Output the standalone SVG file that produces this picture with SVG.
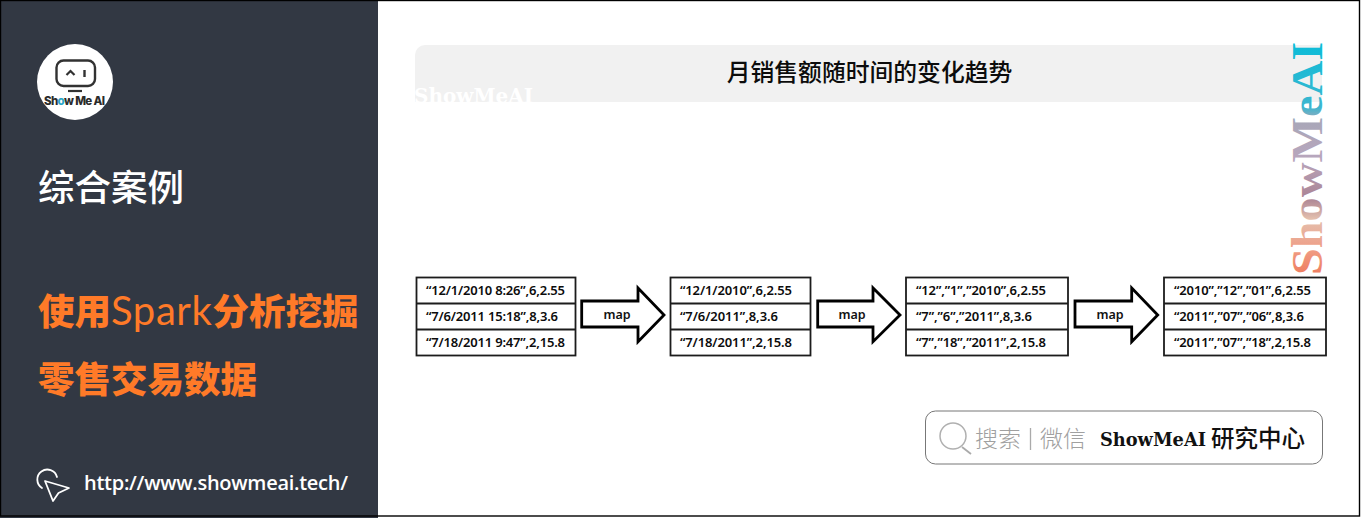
<svg xmlns="http://www.w3.org/2000/svg" width="1361" height="518" viewBox="0 0 1361 518">
<style>
.cjk{font-family:"Noto Sans CJK SC","Noto Sans",sans-serif}
.row{font-family:"Noto Sans","Liberation Sans",sans-serif;font-size:13px;font-weight:600;fill:#0c0c0c}
.box{fill:#fff;stroke:#1c1c1c;stroke-width:1.8}
.arrow{fill:#fff;stroke:#000;stroke-width:2.800;stroke-miterlimit:10}
.map{font-family:"Noto Sans","Liberation Sans",sans-serif;font-size:12.500px;font-weight:600;fill:#111}
</style>
<defs>
<linearGradient id="wm" gradientUnits="userSpaceOnUse" x1="0" y1="0" x2="233" y2="0">
<stop offset="0" stop-color="#ee7c5e"/><stop offset=".1" stop-color="#f09a82"/><stop offset=".24" stop-color="#e4c0ae"/><stop offset=".33" stop-color="#ab8494"/><stop offset=".5" stop-color="#b8a6bd"/><stop offset=".66" stop-color="#a9a7b8"/><stop offset=".72" stop-color="#3cb6cf"/><stop offset="1" stop-color="#0bbcd8"/>
</linearGradient>
</defs>
<rect width="1361" height="518" fill="#fff"/>
<rect x="0" y="0" width="378" height="518" fill="#323843"/>
<rect x=".5" y=".5" width="1359" height="515.500" fill="none" stroke="#000" stroke-width="1.400"/>
<g id="logo">
<circle cx="75" cy="82" r="38" fill="#fff"/>
<rect x="56.500" y="60.500" width="38.500" height="25.500" rx="7" fill="none" stroke="#323232" stroke-width="2.400"/>
<path d="M66.500 75 L70.500 71 L74.500 75" fill="none" stroke="#323232" stroke-width="2.200"/>
<path d="M84.500 70V77" fill="none" stroke="#323232" stroke-width="2.400"/>
<path d="M68 91H82" stroke="#323232" stroke-width="2.200"/>
<text x="44" y="105" font-family="Inter,'Noto Sans',sans-serif" font-size="11.500" font-weight="800" fill="#2b2b2b" textLength="61">Sh<tspan fill="#2ba6c8">o</tspan>w Me AI</text>
</g>
<g id="sidebar-text">
<text class="cjk" x="38" y="201" font-size="36.500" font-weight="500" fill="#fff">综合案例</text>
<text x="38" y="325" font-size="36.500" font-weight="900" fill="#ff7a28" font-family="'Noto Sans CJK SC',sans-serif">使用<tspan font-family="Lato,sans-serif" font-size="40" font-weight="400" letter-spacing=".6">Spark</tspan>分析挖掘</text>
<text class="cjk" x="38" y="393" font-size="36.500" font-weight="900" fill="#ff7a28">零售交易数据</text>
<path d="M42 488 A10 10 0 1 1 57 477" fill="none" stroke="#fff" stroke-width="1.800" stroke-linecap="round"/>
<path d="M45 481 L69 488 L58.500 493 L53 501 Z" fill="none" stroke="#fff" stroke-width="1.800" stroke-linejoin="round"/>
<text x="84" y="490" font-family="'Open Sans',sans-serif" font-size="20" font-weight="600" fill="#fff" textLength="264">http://www.showmeai.tech/</text>
</g>
<g id="title">
<path d="M415 102V55a10 10 0 0 1 10-10H1322V102Z" fill="#f1f1f1"/>
<text class="cjk" x="869.500" y="81" text-anchor="middle" font-size="23.800" font-weight="500" fill="#0c0c0c">月销售额随时间的变化趋势</text>
<svg x="410" y="80" width="130" height="22" viewBox="410 80 130 22"><text x="414" y="103" font-family="'DejaVu Serif',serif" font-size="20" font-weight="700" fill="#fff" textLength="119" lengthAdjust="spacingAndGlyphs">ShowMeAI</text></svg>
</g>
<g id="watermark">
<text transform="translate(1322 275) rotate(-90)" font-family="'Liberation Serif',serif" font-size="44" font-weight="700" fill="url(#wm)" textLength="233" lengthAdjust="spacingAndGlyphs">ShowMeAI</text>
</g>
<g id="connectors">
<path class="arrow" d="M581.700 301H638V288L664 315L638 341.700V327H581.700Z"/>
<text class="map" x="617" y="319" text-anchor="middle">map</text>
<path class="arrow" d="M817.700 301H873V288L900 315L873 341.700V327H817.700Z"/>
<text class="map" x="852" y="319" text-anchor="middle">map</text>
<path class="arrow" d="M1075 301H1131.700V288L1157.700 315L1131.700 341.700V327H1075Z"/>
<text class="map" x="1110" y="319" text-anchor="middle">map</text>
</g>
<g id="table-1">
<rect class="box" x="416.500" y="277.500" width="159" height="78"/><path class="box" d="M416.500 303.500H575.500M416.500 329.500H575.500"/>
<text class="row" x="426" y="295" textLength="139">“12/1/2010 8:26”,6,2.55</text>
<text class="row" x="426" y="321" textLength="132">“7/6/2011 15:18”,8,3.6</text>
<text class="row" x="426" y="347" textLength="139">“7/18/2011 9:47”,2,15.8</text>
</g>
<g id="table-2">
<rect class="box" x="670.500" y="277.500" width="140" height="78"/><path class="box" d="M670.500 303.500H810.500M670.500 329.500H810.500"/>
<text class="row" x="680" y="295" textLength="112">“12/1/2010”,6,2.55</text>
<text class="row" x="680" y="321" textLength="98">“7/6/2011”,8,3.6</text>
<text class="row" x="680" y="347" textLength="112">“7/18/2011”,2,15.8</text>
</g>
<g id="table-3">
<rect class="box" x="906" y="277.500" width="162" height="78"/><path class="box" d="M906 303.500H1068M906 329.500H1068"/>
<text class="row" x="916" y="295" textLength="130">“12”,”1”,”2010”,6,2.55</text>
<text class="row" x="916" y="321" textLength="116">“7”,”6”,”2011”,8,3.6</text>
<text class="row" x="916" y="347" textLength="130">“7”,”18”,”2011”,2,15.8</text>
</g>
<g id="table-4">
<rect class="box" x="1164" y="277.500" width="162" height="78"/><path class="box" d="M1164 303.500H1326M1164 329.500H1326"/>
<text class="row" x="1174" y="295" textLength="137">“2010”,”12”,”01”,6,2.55</text>
<text class="row" x="1174" y="321" textLength="130">“2011”,”07”,”06”,8,3.6</text>
<text class="row" x="1174" y="347" textLength="137">“2011”,”07”,”18”,2,15.8</text>
</g>
<g id="search">
<rect x="925.500" y="411" width="397" height="53" rx="10" fill="#fff" stroke="#777" stroke-width="1"/>
<circle cx="953" cy="436" r="13" fill="none" stroke="#b0b0b0" stroke-width="1.500"/>
<path d="M962 447L971 454" stroke="#aaa" stroke-width="1.800"/>
<text class="cjk" x="975" y="447" font-size="23" font-weight="300" fill="#a0a0a0">搜索</text>
<path d="M1030.500 428V450" stroke="#aaa" stroke-width="1.300"/>
<text class="cjk" x="1040" y="447" font-size="23" font-weight="300" fill="#a0a0a0">微信</text>
<text x="1100" y="446" font-family="'DejaVu Serif',serif" font-size="18" font-weight="700" fill="#111" textLength="106" lengthAdjust="spacingAndGlyphs">ShowMeAI</text>
<text class="cjk" x="1211" y="447" font-size="23.500" font-weight="500" fill="#111">研究中心</text>
</g>
</svg>
